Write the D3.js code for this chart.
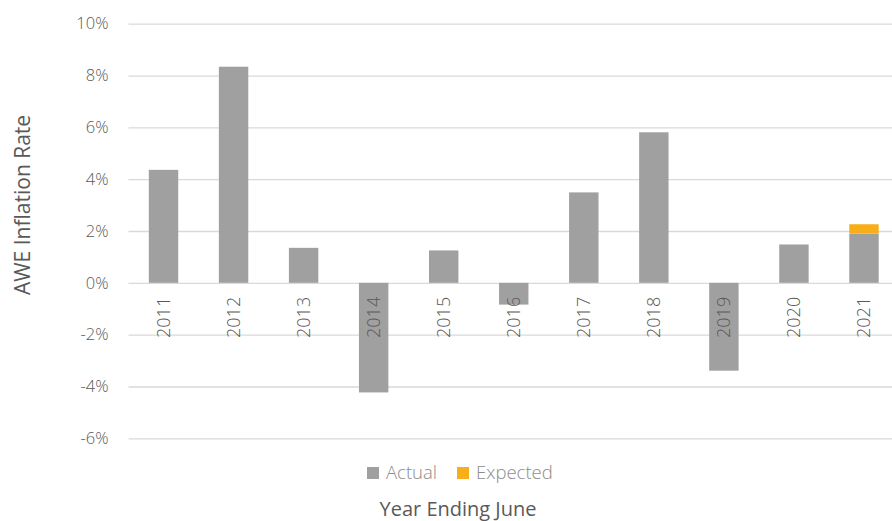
<!DOCTYPE html>
<html>
<head>
<meta charset="utf-8">
<script src="https://cdn.jsdelivr.net/npm/d3@7"></script>
<style>
  html, body { margin: 0; padding: 0; background: #fff; }
  svg { display: block; font-family: "Open Sans", sans-serif; font-weight: 300; }
</style>
</head>
<body>
<svg id="chart" width="892" height="521"></svg>
<script>
// Average weekly earnings inflation, year ending June (percent)
const years = ["2011","2012","2013","2014","2015","2016","2017","2018","2019","2020","2021"];
const actual = [4.36, 8.34, 1.35, -4.23, 1.25, -0.84, 3.49, 5.81, -3.39, 1.48, 1.90];
const expected = [0, 0, 0, 0, 0, 0, 0, 0, 0, 0, 0.36];
const yTicks = [-6, -4, -2, 0, 2, 4, 6, 8, 10];
const seriesNames = ["Actual", "Expected"];
const seriesColors = ["#a0a0a0", "#f7ae18"];

const svg = d3.select("#chart");

const plot = { left: 128.5, right: 899, top: 23.7, bottom: 438.3 };

const x = d3.scaleBand()
  .domain(years)
  .range([plot.left, plot.right])
  .paddingInner(0.58)
  .paddingOuter(0.29);

const y = d3.scaleLinear()
  .domain([-6, 10])
  .range([plot.bottom, plot.top]);

// Gridlines and percentage tick labels
const yAxis = d3.axisLeft(y)
  .tickValues(yTicks)
  .tickFormat(d => d + "%")
  .tickSize(-(892 - plot.left))
  .tickPadding(20);

const gy = svg.append("g")
  .attr("transform", `translate(${plot.left},0)`)
  .call(yAxis);
gy.select(".domain").remove();
gy.selectAll(".tick line").attr("stroke", "#d9d9d9").attr("stroke-width", 1.3);
gy.selectAll(".tick text")
  .attr("fill", "#595959")
  .attr("font-size", 16.5)
  .attr("font-family", "'Open Sans', sans-serif");

// Stacked bars (diverging so negatives hang below zero)
const rows = years.map((yr, i) => ({ year: yr, Actual: actual[i], Expected: expected[i] }));
const stacked = d3.stack()
  .keys(seriesNames)
  .offset(d3.stackOffsetDiverging)(rows);

svg.append("g")
  .selectAll("g")
  .data(stacked)
  .join("g")
  .attr("fill", (d, i) => seriesColors[i])
  .selectAll("rect")
  .data(d => d.filter(p => p[1] !== p[0]))
  .join("rect")
  .attr("x", d => x(d.data.year))
  .attr("width", x.bandwidth())
  .attr("y", d => y(Math.max(d[0], d[1])))
  .attr("height", d => Math.abs(y(d[0]) - y(d[1])));

// Category labels, rotated, just below the zero line
const xAxis = d3.axisBottom(x).tickSize(0).tickPadding(0);
const gx = svg.append("g")
  .attr("transform", `translate(0,${y(0)})`)
  .call(xAxis);
gx.select(".domain").remove();
gx.selectAll(".tick text")
  .attr("transform", "translate(0,14) rotate(-90)")
  .attr("text-anchor", "end")
  .attr("dy", "0.35em")
  .attr("y", 0)
  .attr("x", 0)
  .attr("fill", "#595959")
  .attr("font-size", 18)
  .attr("font-family", "'Open Sans', sans-serif");

// Axis titles
svg.append("text")
  .attr("transform", `translate(30,205) rotate(-90)`)
  .attr("text-anchor", "middle")
  .attr("fill", "#595959")
  .attr("font-size", 21)
  .attr("font-weight", 400)
  .text("AWE Inflation Rate");

svg.append("text")
  .attr("x", 458)
  .attr("y", 516)
  .attr("text-anchor", "middle")
  .attr("fill", "#595959")
  .attr("font-size", 20)
  .attr("font-weight", 400)
  .text("Year Ending June");

// Legend
const legend = svg.append("g").attr("transform", "translate(367,467)");
const legendX = [0, 90];
const items = legend.selectAll("g")
  .data(seriesNames)
  .join("g")
  .attr("transform", (d, i) => `translate(${legendX[i]},0)`);
items.append("rect")
  .attr("width", 12)
  .attr("height", 12)
  .attr("fill", (d, i) => seriesColors[i]);
items.append("text")
  .attr("x", 19)
  .attr("y", 6)
  .attr("dy", "0.35em")
  .attr("fill", "#8c8c8c")
  .attr("font-size", 18.5)
  .text(d => d);
</script>
</body>
</html>
